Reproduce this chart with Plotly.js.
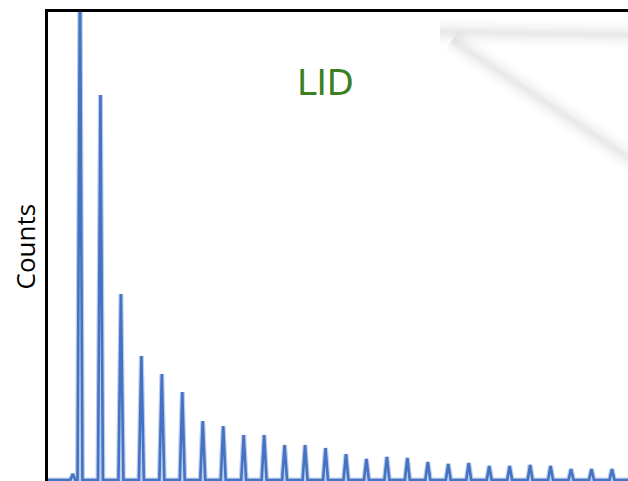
<!DOCTYPE html>
<html>
<head>
<meta charset="utf-8">
<script src="https://cdn.plot.ly/plotly-3.0.1.min.js"></script>
<style>html,body{margin:0;padding:0;background:#fff;}#chart{width:628px;height:481px;}</style>
</head>
<body>
<div id="chart"></div>
<script>
// Peak positions (peak index) and heights (counts)
const peakPositions = [0.65, 1, 2, 3, 4, 5, 6, 7, 8, 9, 10, 11, 12, 13, 14, 15, 16, 17, 18, 19, 20, 21, 22, 23, 24, 25, 26, 27];
const peakCounts    = [60, 5200, 3850, 1860, 1240, 1060, 880, 590, 540, 450, 450, 350, 350, 320, 260, 210, 230, 220, 180, 160, 170, 140, 140, 150, 140, 110, 110, 110];
const xRange = [-0.564, 27.784];
const yRange = [-10, 4680];
const yTitle = "Counts";
const label = "LID";

// Build the spectrum trace: each peak drawn as a narrow spike on a flat baseline
const halfWidth = 0.12;
const xs = [xRange[0]], ys = [0];
for (let i = 0; i < peakPositions.length; i++) {
  const c = peakPositions[i];
  xs.push(c - halfWidth, c, c + halfWidth);
  ys.push(0, peakCounts[i], 0);
}
xs.push(xRange[1]); ys.push(0);

const traces = [
  {x: xs, y: ys, type: 'scatter', mode: 'lines',
   line: {color: 'rgba(68,114,196,0.35)', width: 5}, hoverinfo: 'skip', showlegend: false},
  {x: xs, y: ys, type: 'scatter', mode: 'lines',
   line: {color: '#4472C4', width: 2.6}, showlegend: false}
];

// faint blurred shadow decoration in the top-right corner
function px(x){ return (x - 48) / 580; }
function py(y){ return (481 - y) / 469; }
const shadowShapes = [];
[[26, 0.012], [20, 0.014], [14, 0.016], [9, 0.018], [5, 0.02]].forEach(([w, a]) => {
  shadowShapes.push({type: 'line', xref: 'paper', yref: 'paper', x0: px(440), y0: py(32), x1: px(650), y1: py(35),
    line: {color: 'rgba(0,0,0,' + a + ')', width: w}});
  shadowShapes.push({type: 'line', xref: 'paper', yref: 'paper', x0: px(452), y0: py(40), x1: px(650), y1: py(172),
    line: {color: 'rgba(0,0,0,' + a + ')', width: w}});
});

const layout = {
  width: 628, height: 481,
  margin: {l: 48, r: 0, t: 12, b: 0, pad: 0},
  paper_bgcolor: '#fff', plot_bgcolor: '#fff',
  showlegend: false,
  xaxis: {range: xRange, side: 'top', showline: true, linecolor: '#000', linewidth: 3,
          showgrid: false, zeroline: false, showticklabels: false, ticks: ''},
  yaxis: {range: yRange, showline: true, linecolor: '#000', linewidth: 3,
          showgrid: false, zeroline: false, showticklabels: false, ticks: ''},
  shapes: shadowShapes,
  annotations: [
    {text: yTitle, xref: 'paper', yref: 'paper', x: px(24.5), y: py(247), textangle: -90,
     xanchor: 'center', yanchor: 'middle', showarrow: false,
     font: {family: 'Open Sans', size: 26, color: '#000'}},
    {text: label, xref: 'paper', yref: 'paper', x: px(325), y: py(83),
     xanchor: 'center', yanchor: 'middle', showarrow: false,
     font: {family: 'DejaVu Sans', size: 35, color: '#3b7f22'}}
  ]
};

Plotly.newPlot('chart', traces, layout, {staticPlot: true, displayModeBar: false});
</script>
</body>
</html>
